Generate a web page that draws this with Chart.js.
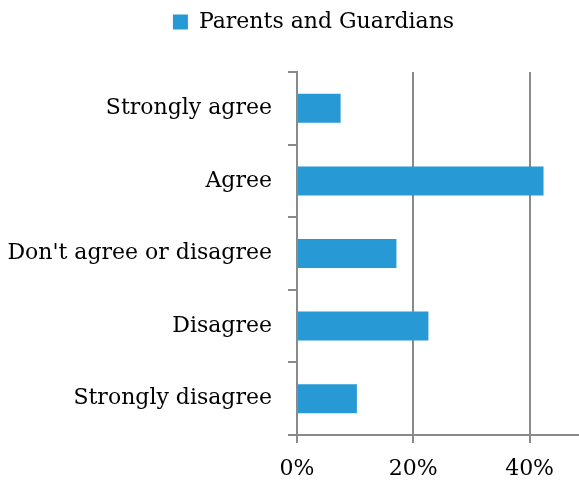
<!DOCTYPE html>
<html>
<head>
<meta charset="utf-8">
<script src="https://cdn.jsdelivr.net/npm/chart.js@4"></script>
<style>
  html, body { margin: 0; padding: 0; background: #fff; }
  .chart-container { width: 579px; height: 481px; position: relative; }
</style>
</head>
<body>
<div class="chart-container"><canvas id="c"></canvas></div>
<script>
const categories = ['Strongly agree', 'Agree', "Don't agree or disagree", 'Disagree', 'Strongly disagree'];
const seriesName = 'Parents and Guardians';
const values = [7.5, 42.4, 17.1, 22.6, 10.3];
const xTicks = [0, 20, 40];

const font = { family: '"DejaVu Serif", serif', size: 22 };
const axisGray = '#8a8a8a';

// push the plot down below the legend and move the legend a bit right, like the original
const legendGap = {
    id: 'legendGap',
    beforeInit(chart) {
        const fit = chart.legend.fit;
        chart.legend.fit = function() {
            fit.call(this);
            this.height = 72;
        };
    },
    afterLayout(chart) {
        chart.legend.left += 24;
        chart.legend.right += 24;
    }
};

new Chart(document.getElementById('c'), {
    type: 'bar',
    data: {
        labels: categories,
        datasets: [{
            label: seriesName,
            data: values,
            backgroundColor: '#279ad6',
            borderWidth: 0,
            barPercentage: 0.8,
            categoryPercentage: 0.5
        }]
    },
    options: {
        indexAxis: 'y',
        responsive: true,
        maintainAspectRatio: false,
        animation: false,
        layout: { padding: 0 },
        plugins: {
            legend: {
                position: 'top',
                labels: {
                    color: '#000',
                    font: font,
                    boxWidth: 15,
                    boxHeight: 15,
                    padding: 11
                }
            },
            tooltip: { enabled: false }
        },
        scales: {
            x: {
                min: 0,
                max: 48.5,
                afterBuildTicks: function(scale) {
                    scale.ticks = xTicks.map(v => ({ value: v }));
                },
                afterFit: function(scale) { scale.height = 46; },
                ticks: {
                    color: '#000',
                    font: font,
                    padding: 13,
                    callback: v => v + '%'
                },
                grid: { color: axisGray, lineWidth: 2, tickLength: 8 },
                border: { color: axisGray, width: 2 }
            },
            y: {
                afterFit: function(scale) { scale.width = 297; },
                ticks: { color: '#000', font: font, padding: 16 },
                grid: { color: axisGray, lineWidth: 2, drawOnChartArea: false, offset: true, tickLength: 9 },
                border: { color: axisGray, width: 2 }
            }
        }
    },
    plugins: [legendGap]
});
</script>
</body>
</html>
